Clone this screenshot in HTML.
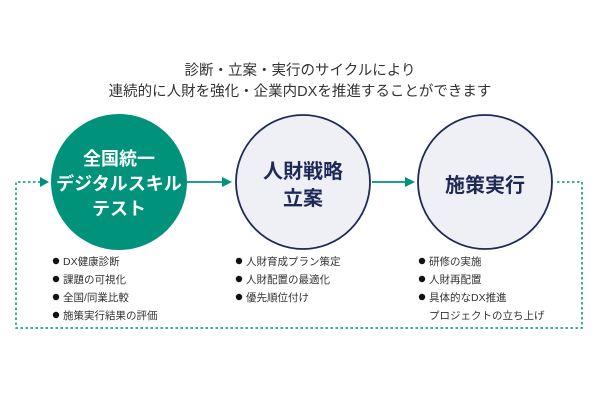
<!DOCTYPE html>
<html><head><meta charset="utf-8"><style>
body{margin:0;background:#fff;width:600px;height:400px;overflow:hidden;font-family:"Liberation Sans","Noto Sans CJK JP",sans-serif}
</style></head><body>
<svg width="600" height="400" xmlns="http://www.w3.org/2000/svg" style="font-family:'Liberation Sans','Noto Sans CJK JP',sans-serif">
<text x="300" y="75" text-anchor="middle" font-size="14.5" fill="#333">診断・立案・実行のサイクルにより</text>
<text x="300" y="96" text-anchor="middle" font-size="14.5" fill="#333">連続的に人財を強化・企業内DXを推進することができます</text>
<g stroke="#00927a" stroke-width="1.5" fill="none" stroke-dasharray="2.5,2.5">
<path d="M557 182 H582 V328 H16 V182 H40"/>
</g>
<polygon points="40,177 49,182 40,187" fill="#00927a"/>
<line x1="187" y1="182" x2="222" y2="182" stroke="#00927a" stroke-width="1.8"/>
<polygon points="222,177 232,182 222,187" fill="#00927a"/>
<line x1="372" y1="182" x2="405" y2="182" stroke="#00927a" stroke-width="1.8"/>
<polygon points="405,177 415,182 405,187" fill="#00927a"/>
<circle cx="119" cy="182" r="68" fill="#00927a"/>
<circle cx="303" cy="182" r="67" fill="#eef0f5" stroke="#1e2a55" stroke-width="1.8"/>
<circle cx="485" cy="182" r="67" fill="#eef0f5" stroke="#1e2a55" stroke-width="1.8"/>
<g font-weight="bold" text-anchor="middle">
<text x="119" y="165" font-size="18" fill="#fff">全国統一</text>
<text x="119" y="190" font-size="18" fill="#fff">デジタルスキル</text>
<text x="119" y="215" font-size="18" fill="#fff">テスト</text>
<text x="303" y="178" font-size="20" fill="#1e2a55">人財戦略</text>
<text x="303" y="205" font-size="20" fill="#1e2a55">立案</text>
<text x="485" y="192" font-size="20" fill="#1e2a55">施策実行</text>
</g>
<g fill="#111">
<circle cx="56" cy="261" r="3.2"/><circle cx="56" cy="279" r="3.2"/><circle cx="56" cy="297" r="3.2"/><circle cx="56" cy="315" r="3.2"/>
<circle cx="239" cy="261" r="3.2"/><circle cx="239" cy="279" r="3.2"/><circle cx="239" cy="297" r="3.2"/>
<circle cx="422" cy="261" r="3.2"/><circle cx="422" cy="279" r="3.2"/><circle cx="422" cy="297" r="3.2"/>
</g>
<g font-size="10.5" fill="#333">
<text x="63" y="265">DX健康診断</text>
<text x="63" y="283">課題の可視化</text>
<text x="63" y="301">全国/同業比較</text>
<text x="63" y="319">施策実行結果の評価</text>
<text x="246" y="265">人財育成プラン策定</text>
<text x="246" y="283">人財配置の最適化</text>
<text x="246" y="301">優先順位付け</text>
<text x="429" y="265">研修の実施</text>
<text x="429" y="283">人財再配置</text>
<text x="429" y="301">具体的なDX推進</text>
<text x="429" y="319">プロジェクトの立ち上げ</text>
</g>
</svg>
</body></html>
